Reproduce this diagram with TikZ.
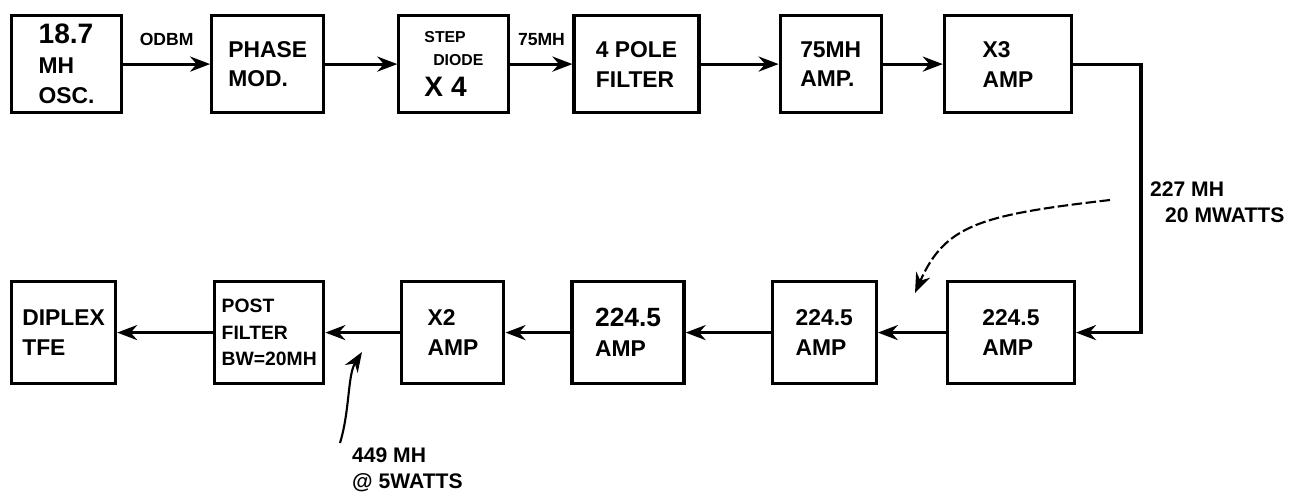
\documentclass[tikz,border=0pt]{standalone}
\usepackage{fontspec}
\setmainfont{Liberation Sans}
\usetikzlibrary{arrows.meta,positioning,calc}

\begin{document}
\begin{tikzpicture}[
    node distance=1.5cm and 1.5cm,
    block/.style={rectangle, draw=black, line width=1.8pt, align=left, minimum height=1.94cm, inner sep=2pt, font=\fontsize{13}{17}\selectfont\bfseries},
    wire/.style={-{Stealth[length=4mm,width=3mm]}, line width=1.8pt},
    note/.style={font=\fontsize{12}{15}\selectfont\bfseries, align=left},
    tag/.style={font=\fontsize{10}{12}\selectfont\bfseries, above=6pt},
    hint/.style={-{Stealth[length=4mm,width=3mm]}, line width=1.2pt}
]
    \useasboundingbox (0,0) rectangle (25.92,-10.06);

    % top row, left to right
    \node [block, minimum width=2.2cm, anchor=north west] (osc) at (0.2,-0.28) {\fontsize{16}{19}\selectfont 18.7\\MH\\OSC.};
    \node [block, minimum width=2.24cm, right=1.74cm of osc] (phase) {PHASE\\MOD.};
    \node [block, minimum width=2.2cm, right=1.44cm of phase, font=\fontsize{9}{13}\selectfont\bfseries] (step) {STEP\\\ \ DIODE\\[5pt]\fontsize{16}{19}\selectfont X 4};
    \node [block, minimum width=2.5cm, right=1.24cm of step] (filt) {4 POLE\\FILTER};
    \node [block, minimum width=2.02cm, right=1.56cm of filt] (amp75) {75MH\\AMP.};
    \node [block, minimum width=2.54cm, right=1.2cm of amp75] (x3) {X3\\AMP};

    % bottom row, right to left in signal order
    \node [block, minimum height=2.04cm, minimum width=2.08cm, anchor=north west] (diplex) at (0.2,-5.6) {DIPLEX\\TFE};
    \node [block, minimum height=2.04cm, minimum width=2.18cm, right=1.92cm of diplex, font=\fontsize{11}{15}\selectfont\bfseries] (post) {POST\\FILTER\\BW=20MH};
    \node [block, minimum height=2.04cm, minimum width=2.04cm, right=1.5cm of post] (x2) {X2\\AMP};
    \node [block, minimum height=2.04cm, minimum width=2.24cm, right=1.3cm of x2] (ampa) {\fontsize{15}{18}\selectfont 224.5\\AMP};
    \node [block, minimum height=2.04cm, minimum width=2.08cm, right=1.7cm of ampa] (ampb) {224.5\\AMP};
    \node [block, minimum height=2.04cm, minimum width=2.54cm, right=1.36cm of ampb] (ampc) {224.5\\AMP};

    \draw [wire] (osc) -- node [tag] {ODBM} (phase);
    \draw [wire] (phase) -- (step);
    \draw [wire] (step) -- node [tag] {75MH} (filt);
    \draw [wire] (filt) -- (amp75);
    \draw [wire] (amp75) -- (x3);
    \coordinate (turn) at ($(x3.east)+(1.36,0)$);
    \draw [wire] (x3.east) -- (turn) |- (ampc.east);
    \draw [wire] (ampc) -- (ampb);
    \draw [wire] (ampb) -- (ampa);
    \draw [wire] (ampa) -- (x2);
    \draw [wire] (x2) -- (post);
    \draw [wire] (post) -- (diplex);

    % handwritten notes
    \node [note, anchor=west] (levela) at (22.88,-4.05) {227 MH\\\hspace{0.3cm}20 MWATTS};
    \coordinate (hinta) at (22.2,-4.0);
    \coordinate (hintaend) at (18.3,-5.86);
    \draw [hint, dash pattern=on 6pt off 2pt] (hinta) .. controls (19.6,-4.3) and (18.9,-4.5) .. (hintaend);

    \node [note, anchor=west] (levelb) at (6.92,-9.4) {449 MH\\@ 5WATTS};
    \coordinate (hintb) at (6.8,-8.86);
    \coordinate (hintbend) at (7.24,-7.04);
    \draw [hint] (hintb) .. controls (7.0,-8.2) and (6.95,-7.5) .. (hintbend);
\end{tikzpicture}
\end{document}
